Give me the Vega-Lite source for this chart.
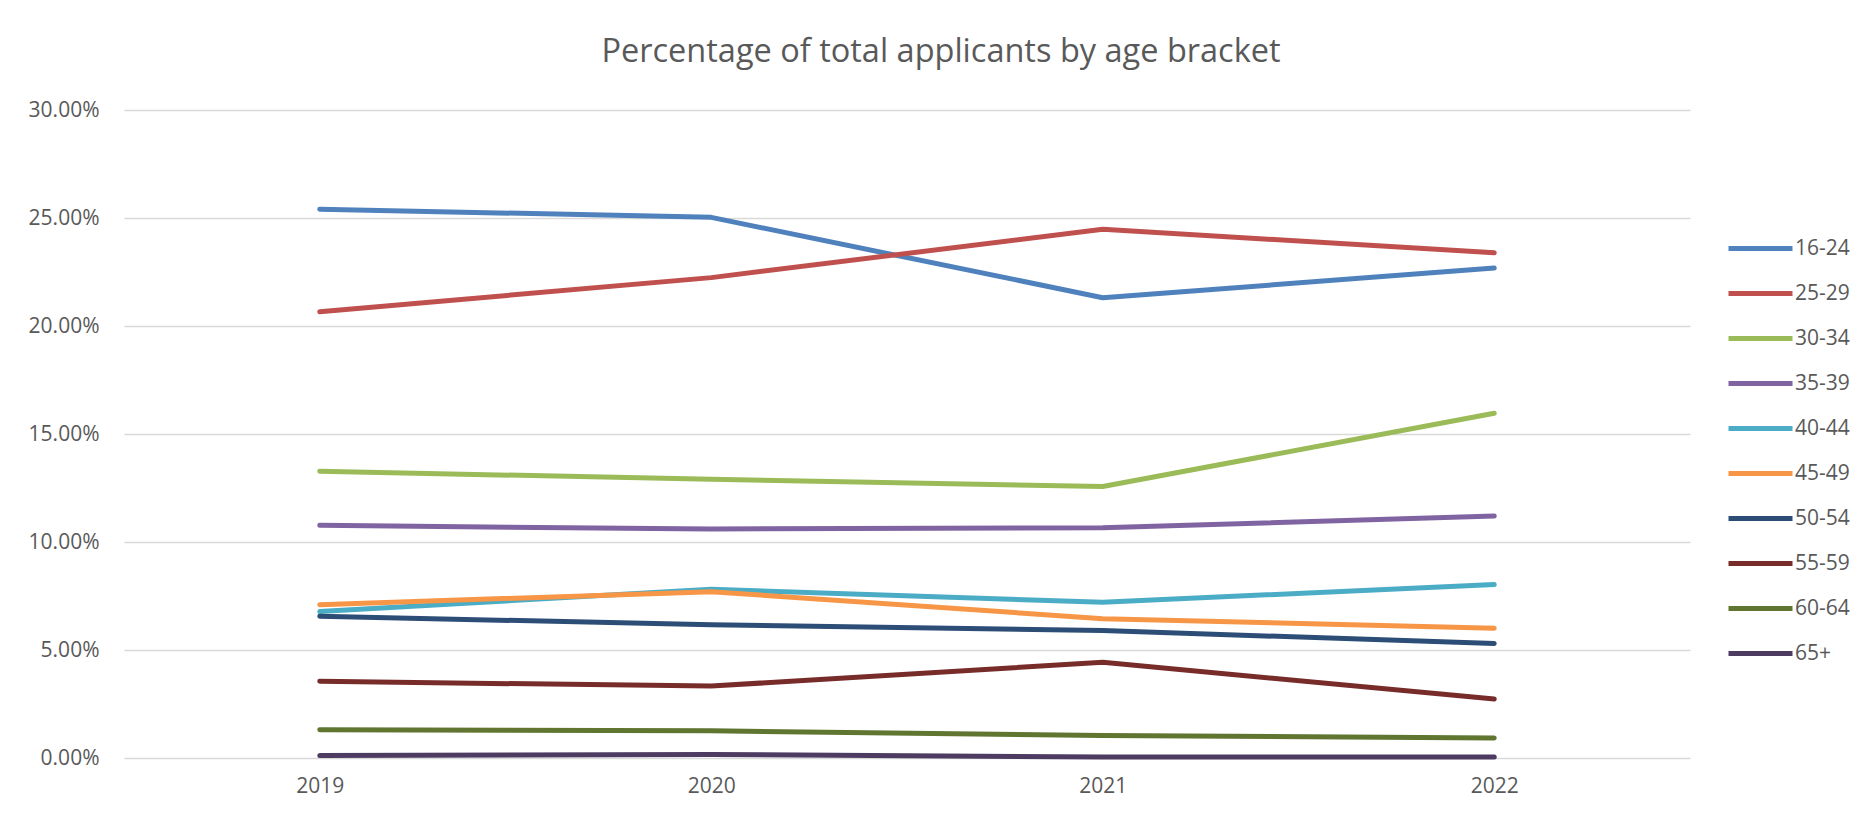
{
  "$schema": "https://vega.github.io/schema/vega-lite/v6.json",
  "autosize": "none",
  "width": 1566,
  "height": 648,
  "padding": {"left": 124, "top": 110, "right": 161, "bottom": 56},
  "background": "white",
  "title": {
    "text": "Percentage of total applicants by age bracket",
    "font": "Open Sans",
    "fontSize": 32.5,
    "fontWeight": "normal",
    "color": "#595959",
    "anchor": "middle",
    "dx": 34,
    "offset": 31
  },
  "config": {
    "view": {"stroke": null},
    "font": "Open Sans"
  },
  "data": {
    "values": [
      {"year": "2019", "age": "16-24", "pct": 0.2541},
      {"year": "2020", "age": "16-24", "pct": 0.2503},
      {"year": "2021", "age": "16-24", "pct": 0.2131},
      {"year": "2022", "age": "16-24", "pct": 0.2268},
      {"year": "2019", "age": "25-29", "pct": 0.2066},
      {"year": "2020", "age": "25-29", "pct": 0.2224},
      {"year": "2021", "age": "25-29", "pct": 0.2448},
      {"year": "2022", "age": "25-29", "pct": 0.2339},
      {"year": "2019", "age": "30-34", "pct": 0.1328},
      {"year": "2020", "age": "30-34", "pct": 0.1290},
      {"year": "2021", "age": "30-34", "pct": 0.1257},
      {"year": "2022", "age": "30-34", "pct": 0.1596},
      {"year": "2019", "age": "35-39", "pct": 0.1077},
      {"year": "2020", "age": "35-39", "pct": 0.1060},
      {"year": "2021", "age": "35-39", "pct": 0.1066},
      {"year": "2022", "age": "35-39", "pct": 0.1120},
      {"year": "2019", "age": "40-44", "pct": 0.0678},
      {"year": "2020", "age": "40-44", "pct": 0.0781},
      {"year": "2021", "age": "40-44", "pct": 0.0721},
      {"year": "2022", "age": "40-44", "pct": 0.0803},
      {"year": "2019", "age": "45-49", "pct": 0.0710},
      {"year": "2020", "age": "45-49", "pct": 0.0770},
      {"year": "2021", "age": "45-49", "pct": 0.0645},
      {"year": "2022", "age": "45-49", "pct": 0.0601},
      {"year": "2019", "age": "50-54", "pct": 0.0656},
      {"year": "2020", "age": "50-54", "pct": 0.0617},
      {"year": "2021", "age": "50-54", "pct": 0.0590},
      {"year": "2022", "age": "50-54", "pct": 0.0530},
      {"year": "2019", "age": "55-59", "pct": 0.0355},
      {"year": "2020", "age": "55-59", "pct": 0.0333},
      {"year": "2021", "age": "55-59", "pct": 0.0443},
      {"year": "2022", "age": "55-59", "pct": 0.0273},
      {"year": "2019", "age": "60-64", "pct": 0.0131},
      {"year": "2020", "age": "60-64", "pct": 0.0126},
      {"year": "2021", "age": "60-64", "pct": 0.0104},
      {"year": "2022", "age": "60-64", "pct": 0.0093},
      {"year": "2019", "age": "65+", "pct": 0.0011},
      {"year": "2020", "age": "65+", "pct": 0.0016},
      {"year": "2021", "age": "65+", "pct": 0.0005},
      {"year": "2022", "age": "65+", "pct": 0.0005}
    ]
  },
  "mark": {"type": "line", "strokeWidth": 5, "strokeCap": "round", "strokeJoin": "round"},
  "encoding": {
    "x": {
      "field": "year",
      "type": "ordinal",
      "title": null,
      "scale": {"type": "point", "padding": 0.5},
      "axis": {
        "labelAngle": 0,
        "domain": false,
        "ticks": false,
        "labelFontSize": 21,
        "labelColor": "#595959",
        "labelPadding": 17
      }
    },
    "y": {
      "field": "pct",
      "type": "quantitative",
      "title": null,
      "scale": {"domain": [0, 0.3], "nice": false},
      "axis": {
        "values": [0, 0.05, 0.1, 0.15, 0.2, 0.25, 0.3],
        "format": ".2%",
        "domain": false,
        "ticks": false,
        "gridColor": "#D9D9D9",
        "gridWidth": 1.5,
        "labelFontSize": 21,
        "labelColor": "#595959",
        "labelPadding": 25
      }
    },
    "color": {
      "field": "age",
      "type": "nominal",
      "title": null,
      "scale": {
        "domain": ["16-24", "25-29", "30-34", "35-39", "40-44", "45-49", "50-54", "55-59", "60-64", "65+"],
        "range": ["#4F81BD", "#C0504D", "#9BBB59", "#8064A2", "#4BACC6", "#F79646", "#2C4D75", "#772C2A", "#5F7530", "#4D3B62"]
      },
      "legend": {
        "orient": "none",
        "legendX": 1602,
        "legendY": 116,
        "symbolType": "stroke",
        "symbolSize": 4096,
        "symbolStrokeWidth": 5,
        "labelFontSize": 21,
        "labelColor": "#595959",
        "labelOffset": 0,
        "clipHeight": 45,
        "rowPadding": 0
      }
    }
  }
}
